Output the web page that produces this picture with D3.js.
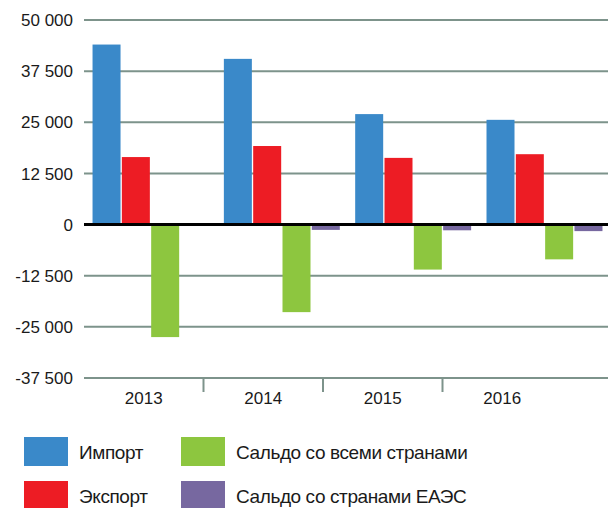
<html>
<head>
<meta charset="utf-8">
<style>
body { margin: 0; background: #fff; }
text { font-family: "Liberation Sans", Arial, sans-serif; fill: #1a1a1a; }
</style>
</head>
<body>
<svg width="608" height="508"></svg>
<script src="https://cdn.jsdelivr.net/npm/d3@7"></script>
<script>
// data
let years = ['2013', '2014', '2015', '2016'];
let seriesNames = ['Импорт', 'Экспорт', 'Сальдо со всеми странами', 'Сальдо со странами ЕАЭС'];
let seriesColors = ['#3a89c9', '#ed1c24', '#8dc63f', '#7768a0'];
let importVals = [44000, 40500, 27000, 25600];
let exportVals = [16500, 19200, 16300, 17200];
let saldoAll = [-27500, -21400, -11000, -8500];
let saldoEaeu = [0, -1300, -1400, -1600];
let yTicks = [-37500, -25000, -12500, 0, 12500, 25000, 37500, 50000];

let series = [importVals, exportVals, saldoAll, saldoEaeu];
let data = [];
years.forEach(function(yr, i) {
	series.forEach(function(s, j) {
		data.push({ year: yr, key: j, value: s[i] });
	});
});

let svg = d3.select('svg');
let plotLeft = 84, plotRight = 608, plotTop = 20, plotBottom = 378;

let y = d3.scaleLinear().domain([-37500, 50000]).range([plotBottom, plotTop]);

// bars are spread over the plot width (last group runs a bit past the edge)
let xBars = d3.scaleBand().domain(years).range([plotLeft, plotRight + 3]).paddingInner(0.117).paddingOuter(0.065);
let xInner = d3.scaleBand().domain(d3.range(4)).range([0, xBars.bandwidth()]).paddingInner(0.045);

// category axis is narrower than the bar area (as in the source)
let xAxis = d3.scaleBand().domain(years).range([plotLeft, 562]);

let fmt = function(d) { return d3.format(',')(d).replace(/,/g, ' ').replace('\u2212', '-'); };

// gridlines
svg.append('g')
	.selectAll('line')
	.data(yTicks.filter(function(d) { return d !== 0; }))
	.join('line')
	.attr('x1', plotLeft).attr('x2', plotRight)
	.attr('y1', function(d) { return y(d); })
	.attr('y2', function(d) { return y(d); })
	.attr('stroke', '#7d938b')
	.attr('stroke-width', 2);

// y labels
svg.append('g')
	.selectAll('text')
	.data(yTicks)
	.join('text')
	.attr('x', 73)
	.attr('y', function(d) { return y(d); })
	.attr('dy', '0.36em')
	.attr('text-anchor', 'end')
	.style('font-size', '17px')
	.text(fmt);

// category ticks
svg.append('g')
	.selectAll('line')
	.data(years.slice(1))
	.join('line')
	.attr('x1', function(d) { return xAxis(d); })
	.attr('x2', function(d) { return xAxis(d); })
	.attr('y1', plotBottom).attr('y2', plotBottom + 14)
	.attr('stroke', '#7d938b')
	.attr('stroke-width', 2);

svg.append('g')
	.selectAll('text')
	.data(years)
	.join('text')
	.attr('x', function(d) { return xAxis(d) + xAxis.bandwidth() / 2; })
	.attr('y', 398)
	.attr('dy', '0.36em')
	.attr('text-anchor', 'middle')
	.style('font-size', '17px')
	.text(function(d) { return d; });

// bars
svg.append('g')
	.selectAll('rect')
	.data(data.filter(function(d) { return d.value !== 0; }))
	.join('rect')
	.attr('x', function(d) { return xBars(d.year) + xInner(d.key); })
	.attr('width', xInner.bandwidth())
	.attr('y', function(d) { return y(Math.max(0, d.value)); })
	.attr('height', function(d) { return Math.abs(y(d.value) - y(0)); })
	.attr('fill', function(d) { return seriesColors[d.key]; });

// zero line
svg.append('line')
	.attr('x1', plotLeft).attr('x2', plotRight)
	.attr('y1', y(0)).attr('y2', y(0))
	.attr('stroke', '#000')
	.attr('stroke-width', 3);

// legend
let legendPos = [[24, 437], [24, 481], [181, 437], [181, 481]];
let lg = svg.append('g')
	.selectAll('g')
	.data(d3.range(4))
	.join('g')
	.attr('transform', function(d) { return 'translate(' + legendPos[d][0] + ',' + legendPos[d][1] + ')'; });

lg.append('rect')
	.attr('width', 44).attr('height', 29)
	.attr('fill', function(d) { return seriesColors[d]; });

lg.append('text')
	.attr('x', 55)
	.attr('y', 15)
	.attr('dy', '0.36em')
	.style('font-size', '19px')
	.style('letter-spacing', '-0.4px')
	.text(function(d) { return seriesNames[d]; });
</script>
</body>
</html>
